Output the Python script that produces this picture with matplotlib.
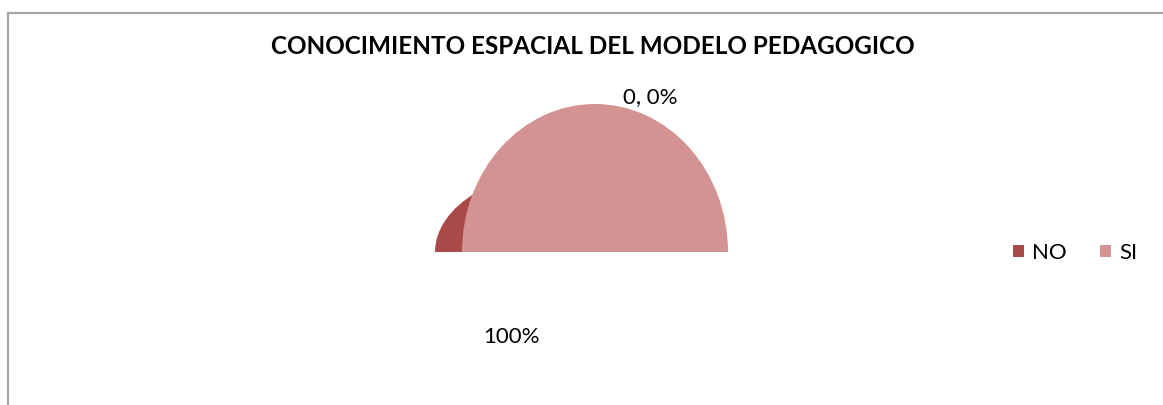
import matplotlib
matplotlib.use("Agg")
import matplotlib.pyplot as plt
from matplotlib.lines import Line2D
from matplotlib.patches import Ellipse

plt.rcParams['font.family'] = ['Lato', 'DejaVu Sans']

title = "CONOCIMIENTO ESPACIAL DEL MODELO PEDAGOGICO"
categories = ["NO", "SI"]
values = [0, 100]
colors = ["#A94A48", "#D39392"]

W, H = 1163, 405
fig = plt.figure(figsize=(W / 100, H / 100), dpi=100)
fig.patch.set_facecolor("white")

def fx(px):
    return px / W

def fy(py):
    return 1 - py / H

# chart border (top and left visible)
fig.add_artist(Line2D([fx(8), fx(8)], [fy(13), 0], color="#A6A6A6", lw=1.6))
fig.add_artist(Line2D([fx(8), 1], [fy(13), fy(13)], color="#A6A6A6", lw=1.6))

# pie axes: centre at x=595, base at y=252
left, right, top, bottom = 400, 790, 104, 252
ax = fig.add_axes([fx(left), fy(bottom), fx(right - left), (bottom - top) / H])
rx = (right - left) / 2 / 133.0

wedges, _ = ax.pie(values, colors=colors, radius=1, center=(0, 0),
                   startangle=90, counterclock=False, frame=True,
                   wedgeprops=dict(linewidth=0))
ax.set_aspect("auto")
ax.set_xlim(-rx, rx)
ax.set_ylim(0, 1)
ax.axis("off")
for w in wedges:
    w.set_zorder(2)
    w.set_clip_on(True)
    w.set_clip_box(ax.bbox)

# 3D depth side of the pie
side = Ellipse((-20 / 133.0, 0), 2 * 140 / 133.0, 2 * 84 / 148.0,
               facecolor=colors[0], edgecolor="none", zorder=1)
ax.add_patch(side)

total = sum(values)
pcts = [v * 100 / total for v in values]

fig.text(fx(593), fy(46), title, ha="center", va="center",
         fontsize=17.5, fontweight="bold", color="black")
fig.text(fx(650), fy(97), f"{values[0]}, {pcts[0]:.0f}%", ha="center",
         va="center", fontsize=16, color="black")
fig.text(fx(511), fy(337), f"{pcts[1]:.0f}%", ha="center", va="center",
         fontsize=16, color="black")

leg = fig.legend(wedges, categories, loc="center",
                 bbox_to_anchor=(fx(1075), fy(253)), ncol=2, frameon=False,
                 fontsize=16, handlelength=0.5, handleheight=0.5,
                 handletextpad=0.35, columnspacing=1.5, borderaxespad=0)

fig.savefig("out.png", dpi=100)
